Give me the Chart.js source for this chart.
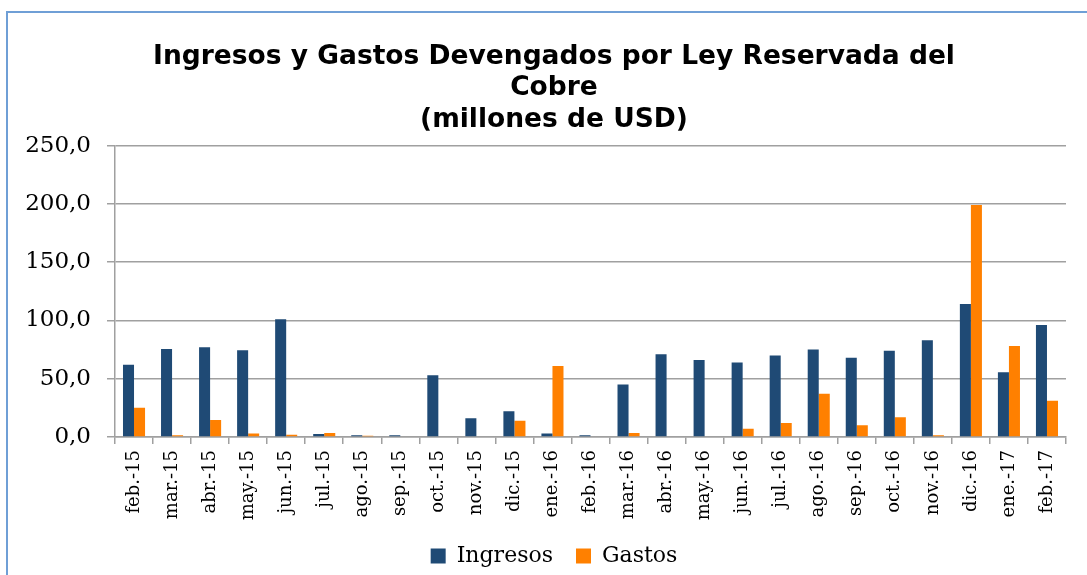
<!DOCTYPE html>
<html>
<head>
<meta charset="utf-8">
<script src="https://cdn.jsdelivr.net/npm/chart.js@4"></script>
<style>
  html, body { margin: 0; padding: 0; background: #fff; overflow: hidden; }
  #wrap { position: relative; width: 1087px; height: 575px; }
  #frame { position: absolute; left: 6px; top: 11px; width: 1200px; height: 700px;
           border-left: 2px solid #6f9fd6; border-top: 2px solid #6f9fd6; pointer-events: none; }
  canvas { position: absolute; left: 0; top: 0; }
</style>
</head>
<body>
<div id="wrap">
  <canvas id="c" width="1087" height="575"></canvas>
  <div id="frame"></div>
</div>
<script>
const categories = ["feb.-15","mar.-15","abr.-15","may.-15","jun.-15","jul.-15","ago.-15","sep.-15","oct.-15","nov.-15","dic.-15","ene.-16","feb.-16","mar.-16","abr.-16","may.-16","jun.-16","jul.-16","ago.-16","sep.-16","oct.-16","nov.-16","dic.-16","ene.-17","feb.-17"];
const ingresos = [62, 75.5, 77, 74.5, 101, 2.5, 1.5, 1.5, 53, 16, 22, 3, 1.5, 45, 71, 66, 64, 70, 75, 68, 74, 83, 114, 55.5, 96];
const gastos   = [25, 1.5, 14.5, 3, 2, 3.5, 1, 0, 0, 0, 14, 61, 0, 3.5, 0, 0, 7, 12, 37, 10, 17, 1.5, 199, 78, 31];
const titleLines = ["Ingresos y Gastos Devengados por Ley Reservada del", "Cobre", "(millones de USD)"];
const yTicks = [0, 50, 100, 150, 200, 250];

new Chart(document.getElementById('c'), {
  type: 'bar',
  data: {
    labels: categories,
    datasets: [
      { label: 'Ingresos', data: ingresos, backgroundColor: '#1f4a75', borderWidth: 0,
        categoryPercentage: 0.58, barPercentage: 1.0 },
      { label: 'Gastos', data: gastos, backgroundColor: '#ff8000', borderWidth: 0,
        categoryPercentage: 0.58, barPercentage: 1.0 }
    ]
  },
  options: {
    responsive: false,
    animation: false,
    layout: { padding: { left: 21, right: 0, top: 41, bottom: -2 } },
    plugins: {
      title: {
        display: true,
        text: titleLines,
        color: '#000',
        font: { family: 'DejaVu Sans', size: 26.5, weight: 'bold', lineHeight: 1.19 },
        padding: { top: 0, bottom: 10 }
      },
      legend: {
        position: 'bottom',
        labels: {
          color: '#000',
          font: { family: 'DejaVu Serif', size: 22 },
          boxWidth: 15, boxHeight: 15,
          padding: 23
        }
      },
      tooltip: { enabled: false }
    },
    scales: {
      x: {
        grid: { offset: true, drawOnChartArea: false, drawTicks: true, tickLength: 7, color: '#a0a0a0', lineWidth: 1.5 },
        border: { color: '#a0a0a0', width: 1.5 },
        ticks: { color: '#000', font: { family: 'DejaVu Serif', size: 18 }, minRotation: 90, maxRotation: 90, autoSkip: false, padding: 6 },
        afterFit: (s) => { s.height = 85; }
      },
      y: {
        min: 0, max: 250,
        afterBuildTicks: (s) => { s.ticks = yTicks.map(v => ({ value: v })); },
        grid: { color: '#a0a0a0', lineWidth: 1.5, tickLength: 8 },
        border: { color: '#a0a0a0', width: 1.5 },
        ticks: {
          color: '#000', font: { family: 'DejaVu Serif', size: 23 }, padding: 16,
          callback: (v) => Number(v).toFixed(1).replace('.', ',')
        },
        afterFit: (s) => { s.width = 94; }
      },
      yRight: {
        position: 'right',
        min: 0, max: 250,
        grid: { display: false },
        border: { display: false },
        ticks: { display: false },
        afterFit: (s) => { s.width = 21; }
      }
    }
  }
});
</script>
</body>
</html>
